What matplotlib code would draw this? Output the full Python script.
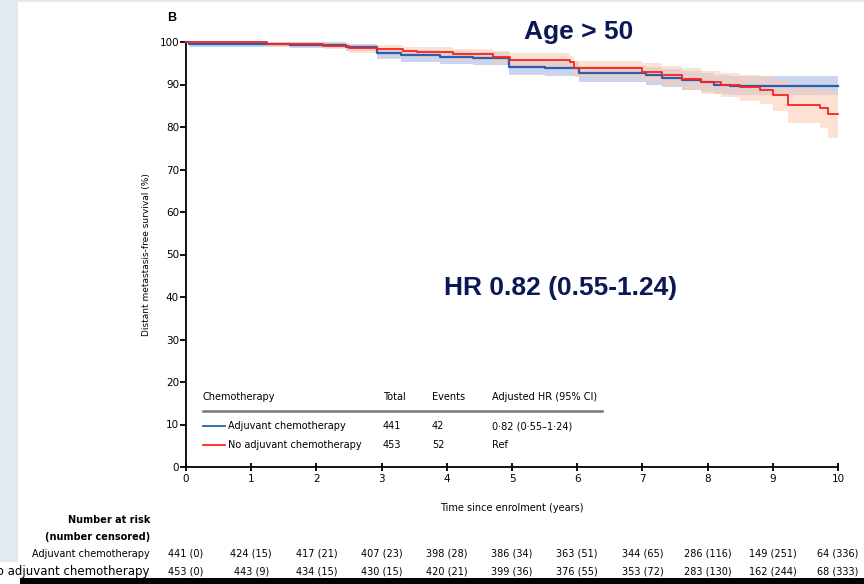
import matplotlib
matplotlib.use("Agg")
import matplotlib.pyplot as plt
import matplotlib.transforms as mtransforms
from matplotlib.patches import Rectangle

NARROW = ["Liberation Sans Narrow", "DejaVu Sans"]
BOLD = ["Liberation Sans", "DejaVu Sans"]

BLUE, BLUE_BAND = "#2a5fae", "#b9c6e6"
RED, RED_BAND = "#ff1f1f", "#fccdb5"
NAVY = "#0b1856"

# Kaplan-Meier steps
adj_t = [0, 0.05, 1.6, 2.45, 2.93, 3.3, 3.9, 4.4, 4.95, 5.5, 6.02, 7.05, 7.3, 7.6, 7.9, 8.1, 8.35, 10]
adj_s = [100, 99.5, 99.4, 98.8, 97.3, 96.9, 96.5, 96.2, 94.2, 93.9, 92.6, 92.2, 91.6, 91.0, 90.6, 90.0, 89.6, 89.6]
adj_lo = [100, 98.8, 98.6, 97.8, 96.0, 95.4, 94.9, 94.5, 92.3, 91.9, 90.5, 89.9, 89.3, 88.7, 88.2, 87.8, 87.5, 87.5]
adj_hi = [100, 100, 100, 99.6, 98.4, 98.1, 97.8, 97.6, 95.8, 95.5, 94.4, 94.1, 93.6, 93.1, 92.8, 92.3, 92.0, 92.0]

no_t = [0, 1.24, 2.1, 2.5, 2.93, 3.33, 3.54, 4.1, 4.71, 4.97, 5.89, 5.95, 7.0, 7.3, 7.6, 7.9,
        8.2, 8.5, 8.8, 9.0, 9.24, 9.72, 9.85, 10]
no_s = [100, 99.5, 99.1, 98.5, 98.3, 97.9, 97.7, 97.2, 96.5, 95.8, 95.2, 93.8, 93.0, 92.2, 91.4, 90.6,
        90.0, 89.3, 88.7, 87.5, 85.2, 84.4, 83.0, 83.0]
no_lo = [100, 98.8, 98.3, 97.5, 97.2, 96.7, 96.4, 95.8, 94.9, 94.1, 93.4, 91.8, 90.8, 89.8, 88.8, 87.8,
         87.0, 86.1, 85.3, 83.8, 81.0, 79.8, 77.4, 77.4]
no_hi = [100, 100, 99.7, 99.3, 99.2, 98.9, 98.8, 98.4, 97.9, 97.3, 96.8, 95.6, 95.0, 94.4, 93.8, 93.2,
         92.8, 92.3, 91.8, 91.0, 89.2, 88.8, 88.4, 88.4]

years = list(range(11))
risk_adj = ["441 (0)", "424 (15)", "417 (21)", "407 (23)", "398 (28)", "386 (34)", "363 (51)",
            "344 (65)", "286 (116)", "149 (251)", "64 (336)"]
risk_no = ["453 (0)", "443 (9)", "434 (15)", "430 (15)", "420 (21)", "399 (36)", "376 (55)",
           "353 (72)", "283 (130)", "162 (244)", "68 (333)"]

W, H = 864, 584
fig = plt.figure(figsize=(W / 100, H / 100), dpi=100)
fig.patch.set_facecolor("white")

# page background strips + black bar at the bottom
fig.patches.append(Rectangle((0, 1 - 562 / H), 18 / W, 560 / H, transform=fig.transFigure,
                             facecolor="#e1eaf0", edgecolor="none", zorder=0))
fig.patches.append(Rectangle((0, 1 - 2 / H), 1, 2 / H, transform=fig.transFigure,
                             facecolor="#e1eaf0", edgecolor="none", zorder=0))
fig.patches.append(Rectangle((20 / W, 0), 1, 6.5 / H, transform=fig.transFigure,
                             facecolor="black", edgecolor="none", zorder=0))

ax = fig.add_axes([186 / W, 1 - 467 / H, 652 / W, 425 / H])
ax.set_xlim(0, 10)
ax.set_ylim(0, 100)
ax.patch.set_alpha(0)

ax.fill_between(adj_t, adj_lo, adj_hi, step="post", color=BLUE_BAND, alpha=0.75, lw=0, clip_on=False)
ax.fill_between(no_t, no_lo, no_hi, step="post", color=RED_BAND, alpha=0.6, lw=0, clip_on=False)
ax.step(adj_t, adj_s, where="post", color=BLUE, lw=1.6, clip_on=False, zorder=3)
ax.step(no_t, no_s, where="post", color=RED, lw=1.3, clip_on=False, zorder=4)

for s in ["top", "right"]:
    ax.spines[s].set_visible(False)
for s in ["left", "bottom"]:
    ax.spines[s].set_linewidth(1.3)
ax.set_xticks(years)
ax.set_yticks(range(0, 101, 10))
ax.tick_params(axis="y", direction="out", length=4, width=1.3, pad=1, labelsize=7.5)
ax.tick_params(axis="x", direction="inout", length=6, width=1.3, pad=2, labelsize=7.5)
for lab in ax.get_xticklabels() + ax.get_yticklabels():
    lab.set_family(NARROW)
ax.set_ylabel("Distant metastasis-free survival (%)", fontsize=6.5, family=NARROW, labelpad=6)
ax.set_xlabel("Time since enrolment (years)", fontsize=7, family=NARROW, labelpad=14)

# big annotations
fig.text(172 / W, 1 - 18 / H, "B", fontsize=9, fontweight="bold", family=BOLD, ha="center", va="center")
fig.text(579 / W, 1 - 32 / H, "Age > 50", fontsize=19, fontweight="bold", family=BOLD,
         color=NAVY, ha="center", va="center")
fig.text(561 / W, 1 - 288 / H, "HR 0.82 (0.55-1.24)", fontsize=19, fontweight="bold", family=BOLD,
         color=NAVY, ha="center", va="center")

# legend table inside the axes
cols = [0.26, 3.02, 3.77, 4.69]
fs = 7
hdr = ["Chemotherapy", "Total", "Events", "Adjusted HR (95% CI)"]
for x, t in zip(cols, hdr):
    ax.text(x, 16.5, t, fontsize=fs, family=NARROW, va="center")
ax.plot([0.26, 6.38], [13.2, 13.2], color="#777777", lw=1.8)
rows = [(BLUE, "Adjuvant chemotherapy", "441", "42", "0·82 (0·55–1·24)", 9.6),
        (RED, "No adjuvant chemotherapy", "453", "52", "Ref", 5.2)]
for col, name, tot, ev, hr, y in rows:
    ax.plot([0.26, 0.6], [y, y], color=col, lw=1.3)
    ax.text(0.64, y, name, fontsize=fs, family=NARROW, va="center")
    ax.text(cols[1], y, tot, fontsize=fs, family=NARROW, va="center")
    ax.text(cols[2], y, ev, fontsize=fs, family=NARROW, va="center")
    ax.text(cols[3], y, hr, fontsize=fs, family=NARROW, va="center")

# number at risk table
tr = mtransforms.blended_transform_factory(ax.transData, fig.transFigure)
fig.text(150 / W, 1 - 520 / H, "Number at risk", fontsize=7, fontweight="bold", family=NARROW,
         ha="right", va="center")
fig.text(150 / W, 1 - 537 / H, "(number censored)", fontsize=7, fontweight="bold", family=NARROW,
         ha="right", va="center")
fig.text(150 / W, 1 - 554 / H, "Adjuvant chemotherapy", fontsize=7, family=NARROW,
         ha="right", va="center")
fig.text(150 / W, 1 - 571 / H, "No adjuvant chemotherapy", fontsize=8.5, family=["DejaVu Sans"],
         ha="right", va="center")
for x, a, b in zip(years, risk_adj, risk_no):
    ax.text(x, 1 - 554 / H, a, transform=tr, fontsize=7, family=NARROW, ha="center", va="center",
            clip_on=False)
    ax.text(x, 1 - 571 / H, b, transform=tr, fontsize=7, family=NARROW, ha="center", va="center",
            clip_on=False)

fig.savefig("out.png", dpi=100)
